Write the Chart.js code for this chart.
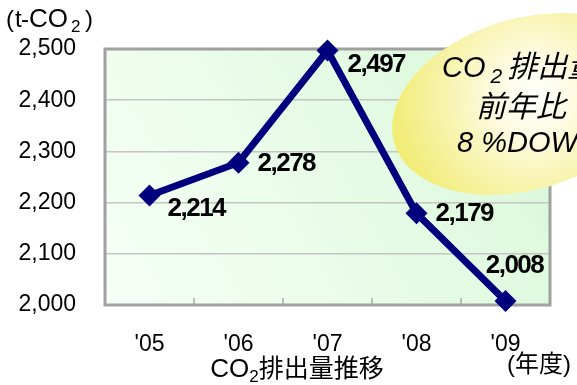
<!DOCTYPE html>
<html>
<head>
<meta charset="utf-8">
<script src="https://cdn.jsdelivr.net/npm/chart.js@4.4.1/dist/chart.umd.min.js"></script>
<style>
  html, body { margin: 0; padding: 0; background: #fff; }
  #wrap { width: 577px; height: 385px; }
</style>
</head>
<body>
<div id="wrap"><canvas id="co2Chart" width="577" height="385"></canvas></div>
<script>
// yearly CO2 emissions (t-CO2)
const years = ["'05", "'06", "'07", "'08", "'09"];
const emissions = [2214, 2278, 2497, 2179, 2008];
const yMin = 2000;
const yMax = 2500;
const yStep = 100;

const FONT = "'Liberation Sans', Arial, 'Noto Sans CJK JP', sans-serif";
const NAVY = '#00007f';

// where each value label sits relative to its point: [dx, dy, align]
const labelPlacement = [
  [18, 13, 'left'],
  [19, 1, 'left'],
  [20, 14, 'left'],
  [19, 0, 'left'],
  [9, -35, 'center']
];

const fmt = v => v.toLocaleString('en-US');

// draws a run of text pieces one after another (used for the CO2 subscripts)
function drawRun(ctx, parts, x, y, align) {
  let total = 0;
  parts.forEach(p => {
    ctx.font = p.font;
    p.w = ctx.measureText(p.text).width;
    total += p.w + (p.gap || 0);
  });
  let cx = align === 'center' ? x - total / 2 : x;
  ctx.textAlign = 'left';
  parts.forEach(p => {
    ctx.font = p.font;
    ctx.fillText(p.text, cx, y + (p.dy || 0));
    cx += p.w + (p.gap || 0);
  });
}

const plotFrame = {
  id: 'plotFrame',
  beforeDraw(chart) {
    const { ctx, chartArea: a } = chart;
    const g = ctx.createLinearGradient(a.left, a.bottom, a.right, a.top);
    g.addColorStop(0, '#f7fff7');
    g.addColorStop(1, '#d8f8d8');
    ctx.save();
    ctx.fillStyle = g;
    ctx.fillRect(a.left, a.top, a.right - a.left, a.bottom - a.top);
    ctx.restore();
  },
  beforeDatasetsDraw(chart) {
    const { ctx, chartArea: a, scales } = chart;
    const x = scales.x;
    ctx.save();
    // small ticks between categories on the bottom edge
    ctx.strokeStyle = '#a8a8a8';
    ctx.lineWidth = 1.5;
    for (let i = 1; i < years.length; i++) {
      const px = (x.getPixelForValue(i - 1) + x.getPixelForValue(i)) / 2;
      ctx.beginPath();
      ctx.moveTo(px, a.bottom);
      ctx.lineTo(px, a.bottom - 7);
      ctx.stroke();
    }
    ctx.strokeStyle = '#a0a0a0';
    ctx.lineWidth = 3;
    ctx.strokeRect(a.left, a.top, a.right - a.left, a.bottom - a.top);
    ctx.restore();
  }
};

const annotations = {
  id: 'annotations',
  afterDraw(chart) {
    const { ctx } = chart;
    const meta = chart.getDatasetMeta(0);
    ctx.save();
    ctx.fillStyle = '#000';
    ctx.textBaseline = 'middle';

    // value labels
    ctx.font = 'bold 26px ' + FONT;
    ctx.letterSpacing = '-1.5px';
    meta.data.forEach((pt, i) => {
      const [dx, dy, align] = labelPlacement[i];
      ctx.textAlign = align;
      ctx.fillText(fmt(emissions[i]), pt.x + dx, pt.y + dy);
    });
    ctx.letterSpacing = '0px';

    // unit label
    ctx.textBaseline = 'alphabetic';
    ctx.textAlign = 'left';
    ctx.font = '24px ' + FONT;
    ctx.fillText('(', 6, 27);
    ctx.fillText('t', 15, 27);
    ctx.fillText('-', 21, 27);
    ctx.font = '26px ' + FONT;
    ctx.fillText('CO', 29, 27);
    ctx.font = '17px ' + FONT;
    ctx.fillText('2', 71, 32);
    ctx.font = '24px ' + FONT;
    ctx.fillText(')', 85, 27);

    // axis caption
    drawRun(ctx, [
      { text: 'CO', font: '26px ' + FONT },
      { text: '2', font: '17px ' + FONT, dy: 5 },
      { text: '排出量推移', font: '25px ' + FONT }
    ], 297, 377, 'center');

    ctx.font = '24px ' + FONT;
    ctx.textAlign = 'left';
    ctx.fillText('(年度)', 507, 372);

    // callout bubble
    ctx.save();
    ctx.translate(526, 104);
    ctx.rotate(-16.7 * Math.PI / 180);
    const rg = ctx.createRadialGradient(10, -5, 0, 10, -5, 140);
    rg.addColorStop(0, '#ffffff');
    rg.addColorStop(0.3, '#fdfbe0');
    rg.addColorStop(1, '#f2ec78');
    ctx.fillStyle = rg;
    ctx.beginPath();
    ctx.ellipse(0, 0, 137.5, 85.5, 0, 0, Math.PI * 2);
    ctx.fill();
    ctx.restore();

    ctx.fillStyle = '#000';
    drawRun(ctx, [
      { text: 'CO', font: 'italic 29px ' + FONT, gap: 5 },
      { text: '2', font: 'italic 21px ' + FONT, dy: 6, gap: 5 },
      { text: '排出量', font: 'italic 30px ' + FONT }
    ], 442, 77, 'left');
    ctx.font = 'italic 30px ' + FONT;
    ctx.textAlign = 'center';
    ctx.fillText('前年比', 521, 117);
    ctx.font = 'italic 29px ' + FONT;
    ctx.textAlign = 'left';
    ctx.fillText('8 %DOWN', 457, 152);
    ctx.restore();
  }
};

new Chart(document.getElementById('co2Chart'), {
  type: 'line',
  data: {
    labels: years,
    datasets: [{
      label: 'CO2',
      data: emissions,
      borderColor: NAVY,
      borderWidth: 7,
      backgroundColor: NAVY,
      pointStyle: 'rectRot',
      pointRadius: 11,
      pointHoverRadius: 11,
      pointBackgroundColor: NAVY,
      pointBorderWidth: 0,
      tension: 0,
      clip: false
    }]
  },
  options: {
    responsive: false,
    animation: false,
    layout: { padding: { top: 49, right: 27, left: 0, bottom: 0 } },
    plugins: {
      legend: { display: false },
      tooltip: { enabled: false }
    },
    scales: {
      x: {
        offset: true,
        grid: { display: false },
        border: { display: false },
        ticks: {
          color: '#000',
          font: { family: FONT, size: 23 },
          padding: 18,
          maxRotation: 0
        },
        afterFit: s => { s.height = 80; }
      },
      y: {
        min: yMin,
        max: yMax,
        grid: { color: '#c4c4c4', lineWidth: 1.5, drawTicks: false },
        border: { display: false },
        ticks: {
          stepSize: yStep,
          color: '#000',
          font: { family: FONT, size: 23 },
          padding: 29,
          callback: v => fmt(v)
        },
        afterFit: s => { s.width = 105; }
      }
    }
  },
  plugins: [plotFrame, annotations]
});
</script>
</body>
</html>
